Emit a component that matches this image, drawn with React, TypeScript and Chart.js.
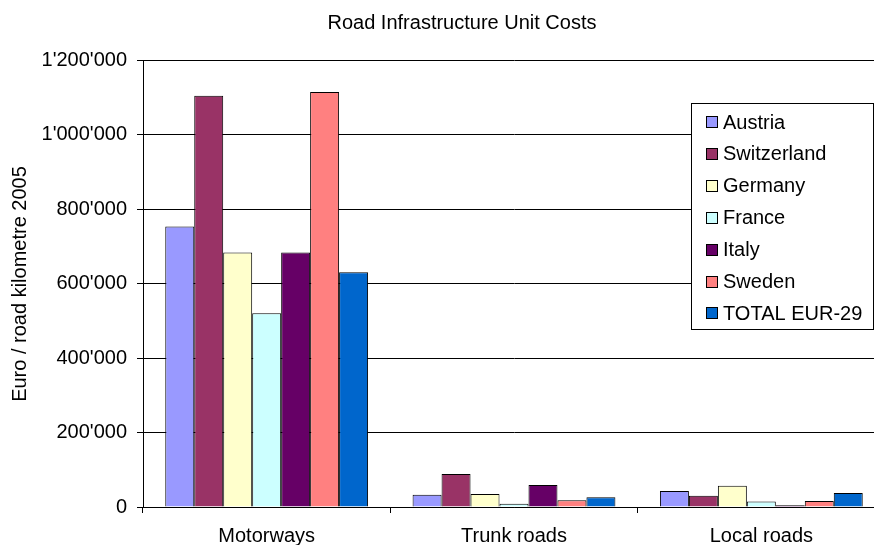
import React, { useEffect, useRef } from "react";
import { Chart, registerables } from "chart.js";

Chart.register(...registerables);

const categories = ["Motorways", "Trunk roads", "Local roads"];
const seriesNames = ["Austria", "Switzerland", "Germany", "France", "Italy", "Sweden", "TOTAL EUR-29"];
const seriesColors = ["#9999FF", "#993366", "#FFFFCC", "#CCFFFF", "#660066", "#FF8080", "#0066CC"];
const austria = [753000, 33000, 43000];
const switzerland = [1104000, 88500, 30500];
const germany = [683000, 35000, 57000];
const france = [520000, 9000, 15000];
const italy = [683000, 59000, 4500];
const sweden = [1114000, 18000, 16000];
const totalEur29 = [630000, 26000, 37500];
const seriesValues = [austria, switzerland, germany, france, italy, sweden, totalEur29];
const yTicks = [0, 200000, 400000, 600000, 800000, 1000000, 1200000];

const FONT = "'Liberation Sans', Arial, sans-serif";

function fmt(v: number): string {
  return String(Math.round(v)).replace(/\B(?=(\d{3})+(?!\d))/g, "'");
}

const decorPlugin = {
  id: "decor",
  afterDraw(chart: any) {
    const ctx = chart.ctx as CanvasRenderingContext2D;
    ctx.save();
    // title
    ctx.fillStyle = "#000";
    ctx.font = `20px ${FONT}`;
    ctx.textAlign = "center";
    ctx.textBaseline = "middle";
    ctx.fillText("Road Infrastructure Unit Costs", 462, 23);
    // y title
    ctx.save();
    ctx.translate(20, 284);
    ctx.rotate(-Math.PI / 2);
    ctx.font = `20px ${FONT}`;
    ctx.fillText("Euro / road kilometre 2005", 0, 0);
    ctx.restore();
    // legend
    const bx = 691.5, by = 103.5, bw = 182, bh = 226;
    ctx.fillStyle = "#fff";
    ctx.fillRect(bx, by, bw, bh);
    ctx.strokeStyle = "#000";
    ctx.lineWidth = 1;
    ctx.strokeRect(bx, by, bw, bh);
    ctx.font = `20px ${FONT}`;
    ctx.textAlign = "left";
    ctx.textBaseline = "middle";
    chart.data.datasets.forEach((ds: any, i: number) => {
      const cy = 122 + i * 31.9;
      ctx.fillStyle = ds.backgroundColor;
      ctx.fillRect(706.5, Math.round(cy) - 5.5, 11, 11);
      ctx.strokeStyle = "#000";
      ctx.strokeRect(706.5, Math.round(cy) - 5.5, 11, 11);
      ctx.fillStyle = "#000";
      ctx.fillText(ds.label, 723, cy + 1);
    });
    ctx.restore();
  },
};

export default function App() {
  const ref = useRef<HTMLCanvasElement | null>(null);
  useEffect(() => {
    document.body.style.margin = "0";
    const canvas = ref.current!;
    const chart = new Chart(canvas, {
      type: "bar",
      data: {
        labels: categories,
        datasets: seriesNames.map((name, i) => ({
          label: name,
          data: seriesValues[i],
          backgroundColor: seriesColors[i],
          borderColor: "#000",
          borderWidth: 1,
          barPercentage: 1,
          categoryPercentage: 0.82,
        })),
      },
      options: {
        responsive: false,
        animation: false,
        devicePixelRatio: 1,
        layout: { padding: { top: 60, left: 0, right: 1, bottom: 0 } },
        plugins: {
          legend: { display: false },
          title: { display: false },
          tooltip: { enabled: false },
        },
        scales: {
          x: {
            grid: { display: true, drawOnChartArea: false, offset: true, color: "#000", tickLength: 6, tickColor: "#000" },
            border: { display: true, color: "#000" },
            ticks: { color: "#000", font: { family: FONT, size: 20 }, padding: 11, maxRotation: 0 },
            afterFit: (s: any) => { s.height = 38; },
          },
          y: {
            min: 0,
            max: 1200000,
            afterBuildTicks: (s: any) => { s.ticks = yTicks.map((v) => ({ value: v })); },
            grid: { color: "#000", tickLength: 6, tickColor: "#000" },
            border: { display: true, color: "#000" },
            ticks: { color: "#000", font: { family: FONT, size: 20 }, padding: 10, callback: (v: any) => fmt(Number(v)) },
            afterFit: (s: any) => { s.width = 143; },
          },
        },
      },
      plugins: [decorPlugin],
    });
    return () => chart.destroy();
  }, []);
  return (
    <div style={{ position: "fixed", left: 0, top: 0, width: 874, height: 545, overflow: "hidden", background: "#fff" }}>
      <canvas ref={ref} width={886} height={545} style={{ width: 886, height: 545, display: "block" }} />
    </div>
  );
}
